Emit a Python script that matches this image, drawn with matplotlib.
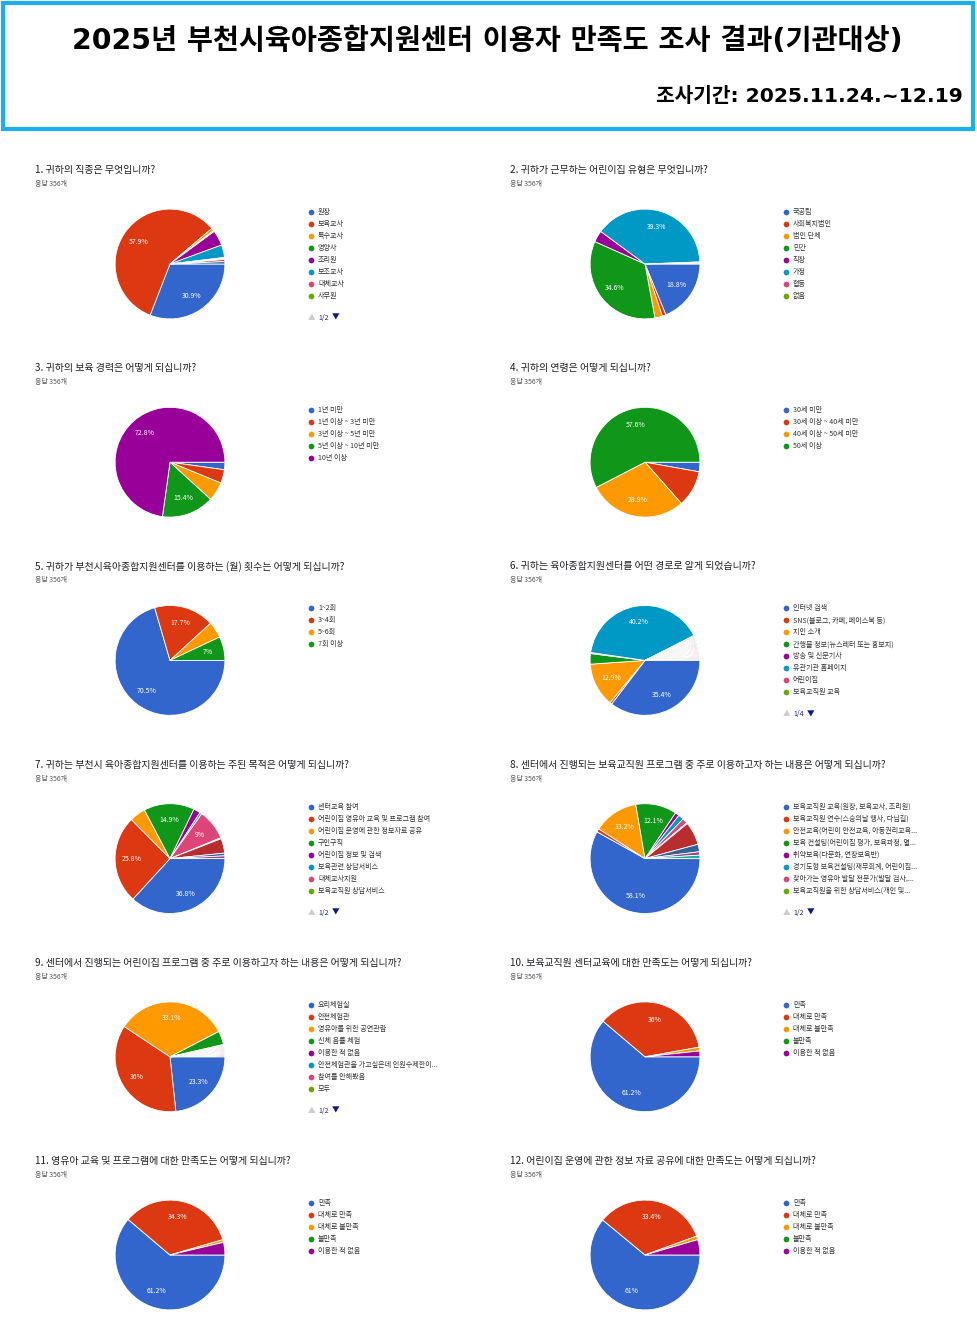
#!/usr/bin/env python3

import matplotlib
matplotlib.use("Agg")
import matplotlib.pyplot as plt
from matplotlib.patches import Rectangle

plt.rcParams["font.family"] = ["Noto Sans CJK KR", "DejaVu Sans"]

W, H = 977, 1319

# google forms palette
COLORS = ["#3366cc", "#dc3912", "#ff9900", "#109618", "#990099", "#0099c6",
          "#dd4477", "#66aa00", "#b82e2e", "#316395", "#994499", "#22aa99",
          "#aaaa11", "#6633cc", "#e67300", "#8b0707", "#651067", "#329262",
          "#5574a6", "#3b3eac", "#b77322", "#16d620", "#b91383", "#f4359e"]

TITLE = "2025년 부천시육아종합지원센터 이용자 만족도 조사 결과(기관대상)"
PERIOD = "조사기간: 2025.11.24.~12.19"
N_RESP = "응답 356개"

q1_title = "1. 귀하의 직종은 무엇입니까?"
q1_labels = ["원장", "보육교사", "특수교사", "영양사", "조리원", "보조교사", "대체교사", "사무원"]
q1_values = [30.9, 57.9, 0.8, 0.3, 4.5, 3.7, 0.3, 0.3, 0.6, 0.7]
q1_pager = "1/2"

q2_title = "2. 귀하가 근무하는 어린이집 유형은 무엇입니까?"
q2_labels = ["국공립", "사회복지법인", "법인 단체", "민간", "직장", "가정", "협동", "없음"]
q2_values = [18.8, 1.1, 2.2, 34.6, 3.4, 39.3, 0.3, 0.3]
q2_pager = None

q3_title = "3. 귀하의 보육 경력은 어떻게 되십니까?"
q3_labels = ["1년 미만", "1년 이상 ~ 3년 미만", "3년 이상 ~ 5년 미만", "5년 이상 ~ 10년 미만", "10년 이상"]
q3_values = [2.2, 4.0, 5.6, 15.4, 72.8]
q3_pager = None

q4_title = "4. 귀하의 연령은 어떻게 되십니까?"
q4_labels = ["30세 미만", "30세 이상 ~ 40세 미만", "40세 이상 ~ 50세 미만", "50세 이상"]
q4_values = [2.8, 10.7, 28.9, 57.6]
q4_pager = None

q5_title = "5. 귀하가 부천시육아종합지원센터를 이용하는 (월) 횟수는 어떻게 되십니까?"
q5_labels = ["1~2회", "3~4회", "5~6회", "7회 이상"]
q5_values = [70.5, 17.7, 4.8, 7.0]
q5_pager = None

q6_title = "6. 귀하는 육아종합지원센터를 어떤 경로로 알게 되었습니까?"
q6_labels = ["인터넷 검색", "SNS(블로그, 카페, 페이스북 등)", "지인 소개", "간행물 정보(뉴스레터 또는 홍보지)",
             "방송 및 신문기사", "유관기관 홈페이지", "어린이집", "보육교직원 교육"]
q6_values = [35.4, 0.6, 12.9, 3.1, 0.3, 40.2, 0.3, 0.3,
             0.3, 0.3, 0.3, 0.3, 0.3, 0.3, 0.3, 0.3, 0.3, 0.3, 0.3, 0.3,
             0.3, 0.3, 0.3, 0.3, 0.3, 0.3, 0.3, 0.3, 0.3, 0.3, 0.3]
q6_pager = "1/4"

q7_title = "7. 귀하는 부천시 육아종합지원센터를 이용하는 주된 목적은 어떻게 되십니까?"
q7_labels = ["센터교육 참여", "어린이집 영유아 교육 및 프로그램 참여", "어린이집 운영에 관한 정보자료 공유", "구인구직",
             "어린이집 정보 및 검색", "보육관련 상담서비스", "대체교사지원", "보육교직원 상담서비스"]
q7_values = [36.8, 25.8, 4.7, 14.9, 2.0, 0.6, 9.0, 0.3, 4.3, 0.8, 0.8]
q7_pager = "1/2"

q8_title = "8. 센터에서 진행되는 보육교직원 프로그램 중 주로 이용하고자 하는 내용은 어떻게 되십니까?"
q8_labels = ["보육교직원 교육(원장, 보육교사, 조리원)", "보육교직원 연수(스승의날 행사, 다님길)",
             "안전교육(어린이 안전교육, 아동권리교육...", "보육 컨설팅(어린이집 평가, 보육과정, 열...",
             "취약보육(다문화, 연장보육반)", "경기도형 보육컨설팅(재무회계, 어린이집...",
             "찾아가는 영유아 발달 전문가(발달 검사,...", "보육교직원을 위한 상담서비스(개인 및..."]
q8_values = [58.1, 1.0, 13.2, 12.1, 1.2, 1.6, 1.5, 0.3, 6.8, 2.2, 1.0, 1.0]
q8_pager = "1/2"

q9_title = "9. 센터에서 진행되는 어린이집 프로그램 중 주로 이용하고자 하는 내용은 어떻게 되십니까?"
q9_labels = ["요리체험실", "안전체험관", "영유아를 위한 공연관람", "신체 음률 체험", "이용한 적 없음",
             "안전체험관을 가고싶은데 인원수제한이...", "참여를 안해봤음", "모두"]
q9_values = [23.3, 36.0, 33.1, 4.0, 0.3, 0.3, 0.3, 0.3,
             0.3, 0.3, 0.3, 0.3, 0.3, 0.3, 0.3, 0.3]
q9_pager = "1/2"

q10_title = "10. 보육교직원 센터교육에 대한 만족도는 어떻게 되십니까?"
q10_labels = ["만족", "대체로 만족", "대체로 불만족", "불만족", "이용한 적 없음"]
q10_values = [61.2, 36.0, 1.1, 0.0, 1.7]
q10_pager = None

q11_title = "11. 영유아 교육 및 프로그램에 대한 만족도는 어떻게 되십니까?"
q11_labels = ["만족", "대체로 만족", "대체로 불만족", "불만족", "이용한 적 없음"]
q11_values = [61.2, 34.3, 0.8, 0.0, 3.7]
q11_pager = None

q12_title = "12. 어린이집 운영에 관한 정보 자료 공유에 대한 만족도는 어떻게 되십니까?"
q12_labels = ["만족", "대체로 만족", "대체로 불만족", "불만족", "이용한 적 없음"]
q12_values = [61.0, 33.4, 1.1, 0.0, 4.5]
q12_pager = None

questions = [
    (q1_title, q1_labels, q1_values, q1_pager),
    (q2_title, q2_labels, q2_values, q2_pager),
    (q3_title, q3_labels, q3_values, q3_pager),
    (q4_title, q4_labels, q4_values, q4_pager),
    (q5_title, q5_labels, q5_values, q5_pager),
    (q6_title, q6_labels, q6_values, q6_pager),
    (q7_title, q7_labels, q7_values, q7_pager),
    (q8_title, q8_labels, q8_values, q8_pager),
    (q9_title, q9_labels, q9_values, q9_pager),
    (q10_title, q10_labels, q10_values, q10_pager),
    (q11_title, q11_labels, q11_values, q11_pager),
    (q12_title, q12_labels, q12_values, q12_pager),
]


def make_pct_label(min_pct):
    # google hides labels that don't fit inside the slice
    def fmt(p):
        if p < min_pct:
            return ""
        s = f"{p:.1f}"
        if s.endswith(".0"):
            s = s[:-2]
        return s + "%"
    return fmt


def draw_panel(fig, bg, x0, y0, title, labels, values, pager, min_pct=6.95):
    bg.text(x0, y0, title, fontsize=7.2, color="#202124", va="center", ha="left")
    bg.text(x0, y0 + 14, N_RESP, fontsize=5.0, color="#555555", va="center", ha="left")

    # pie
    cx, cy, r = x0 + 135, y0 + 94, 56
    ax = fig.add_axes([(cx - r) / W, 1 - (cy + r) / H, 2 * r / W, 2 * r / H])
    cols = [COLORS[i % len(COLORS)] for i in range(len(values))]
    ax.pie(values, colors=cols, startangle=0, counterclock=False,
           autopct=make_pct_label(min_pct), pctdistance=0.7, radius=1,
           wedgeprops=dict(edgecolor="white", linewidth=0.6),
           textprops=dict(color="white", fontsize=5.0))
    ax.set_xlim(-1.02, 1.02)
    ax.set_ylim(-1.02, 1.02)
    ax.set_aspect("equal")
    ax.axis("off")

    # legend
    lx, ly = x0 + 276, y0 + 42
    for i, lab in enumerate(labels):
        yy = ly + 12 * i
        bg.scatter([lx], [yy], s=17, color=COLORS[i], linewidths=0, zorder=3)
        bg.text(lx + 7, yy, lab, fontsize=5.1, color="#333333", va="center", ha="left")
    if pager:
        yy = y0 + 148
        bg.text(lx - 3, yy, "▲", fontsize=5.5, color="#cccccc", va="center", ha="left")
        bg.text(lx + 7, yy, pager, fontsize=5.0, color="#1a237e", va="center", ha="left")
        bg.text(lx + 21, yy, "▼", fontsize=5.5, color="#0d1a8c", va="center", ha="left")


def run():
    fig = plt.figure(figsize=(W / 100, H / 100), dpi=100)
    fig.patch.set_facecolor("white")
    bg = fig.add_axes([0, 0, 1, 1])
    bg.set_xlim(0, W)
    bg.set_ylim(H, 0)
    bg.axis("off")

    # header box
    bg.add_patch(Rectangle((3, 3), 970, 126, fill=False, edgecolor="#1ab0ef", linewidth=3))
    head_fam = ["DejaVu Sans", "Noto Sans CJK KR"]
    bg.text(487.5, 41, TITLE, fontsize=20.4, fontweight="bold", color="black",
            ha="center", va="center", family=head_fam)
    bg.text(963, 96, PERIOD, fontsize=14.6, fontweight="bold", color="black",
            ha="right", va="center", family=head_fam)

    for k, (title, labels, values, pager) in enumerate(questions):
        row, col = divmod(k, 2)
        x0 = 35 if col == 0 else 510
        y0 = 170 + 198.2 * row
        min_pct = 12 if k == 3 else 6.95
        draw_panel(fig, bg, x0, y0, title, labels, values, pager, min_pct)

    fig.savefig("out.png", dpi=100)


if __name__ == "__main__":
    run()
